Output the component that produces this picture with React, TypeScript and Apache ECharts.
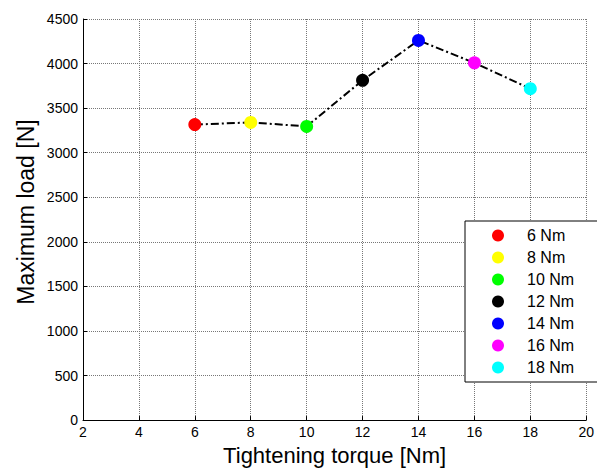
import React, { useEffect, useRef } from "react";
import * as echarts from "echarts";

const torques = [6, 8, 10, 12, 14, 16, 18];
const maxLoads = [3315, 3340, 3295, 3812, 4260, 4008, 3718];
const legendNames = ["6 Nm", "8 Nm", "10 Nm", "12 Nm", "14 Nm", "16 Nm", "18 Nm"];
const pointColors = ["#ff0000", "#ffff00", "#00ff00", "#000000", "#0000ff", "#ff00ff", "#00ffff"];
const xTitle = "Tightening torque [Nm]";
const yTitle = "Maximum load [N]";

export default function App() {
  const ref = useRef<HTMLDivElement>(null);
  useEffect(() => {
    if (!ref.current) return;
    const chart = echarts.init(ref.current, null, { renderer: "svg" });
    const font = "Liberation Sans, Arial, sans-serif";
    const scatterSeries = torques.map((t, i) => ({
      name: legendNames[i],
      type: "scatter",
      data: [[t, maxLoads[i]]],
      symbol: "circle",
      symbolSize: 13,
      itemStyle: { color: pointColors[i], opacity: 1 },
      z: 3,
    }));
    chart.setOption({
      animation: false,
      backgroundColor: "#ffffff",
      textStyle: { fontFamily: font },
      grid: { left: 83, right: 7, top: 19, bottom: 50 },
      graphic: [
        {
          type: "text",
          x: 26,
          y: 212,
          rotation: Math.PI / 2,
          style: {
            text: yTitle,
            fontSize: 23,
            fontFamily: font,
            fill: "#000",
            align: "center",
            verticalAlign: "middle",
          },
        },
      ],
      legend: {
        orient: "vertical",
        left: 465,
        top: 221,
        data: legendNames.map((n) => ({ name: n, icon: "circle", itemStyle: { opacity: 1 } })),
        itemWidth: 12,
        itemHeight: 12,
        itemGap: 5,
        padding: [6, 29, 6, 27],
        borderColor: "#000",
        borderWidth: 1,
        borderRadius: 0,
        backgroundColor: "#fff",
        textStyle: { fontSize: 16, lineHeight: 17, color: "#000", fontFamily: font, padding: [0, 0, 0, 18] },
      },
      xAxis: {
        type: "value",
        min: 2,
        max: 20,
        interval: 2,
        name: xTitle,
        nameLocation: "middle",
        nameGap: 21,
        nameTextStyle: { fontSize: 22, color: "#000", fontFamily: font },
        axisLine: { show: true, onZero: false, lineStyle: { color: "#000", width: 1 } },
        axisTick: { show: true, inside: true, length: 4, lineStyle: { color: "#000" } },
        axisLabel: { fontSize: 14, color: "#000", margin: 5, fontFamily: font, formatter: (v: number) => String(v) },
        splitLine: { show: true, lineStyle: { type: "dotted", color: "#777", width: 1 } },
      },
      yAxis: {
        type: "value",
        min: 0,
        max: 4500,
        interval: 500,
        axisLine: { show: true, onZero: false, lineStyle: { color: "#000", width: 1 } },
        axisTick: { show: true, inside: true, length: 4, lineStyle: { color: "#000" } },
        axisLabel: { fontSize: 14, color: "#000", margin: 5, fontFamily: font, formatter: (v: number) => String(v) },
        splitLine: { show: true, lineStyle: { type: "dotted", color: "#777", width: 1 } },
      },
      series: [
        {
          name: "line",
          type: "line",
          data: torques.map((t, i) => [t, maxLoads[i]]),
          showSymbol: false,
          symbol: "none",
          lineStyle: { color: "#000", width: 2, type: [8, 3, 2, 3] },
          z: 2,
        },
        ...scatterSeries,
      ],
    });
    return () => chart.dispose();
  }, []);
  return <div ref={ref} style={{ width: 597, height: 471, position: "absolute", left: 0, top: 0 }} />;
}
